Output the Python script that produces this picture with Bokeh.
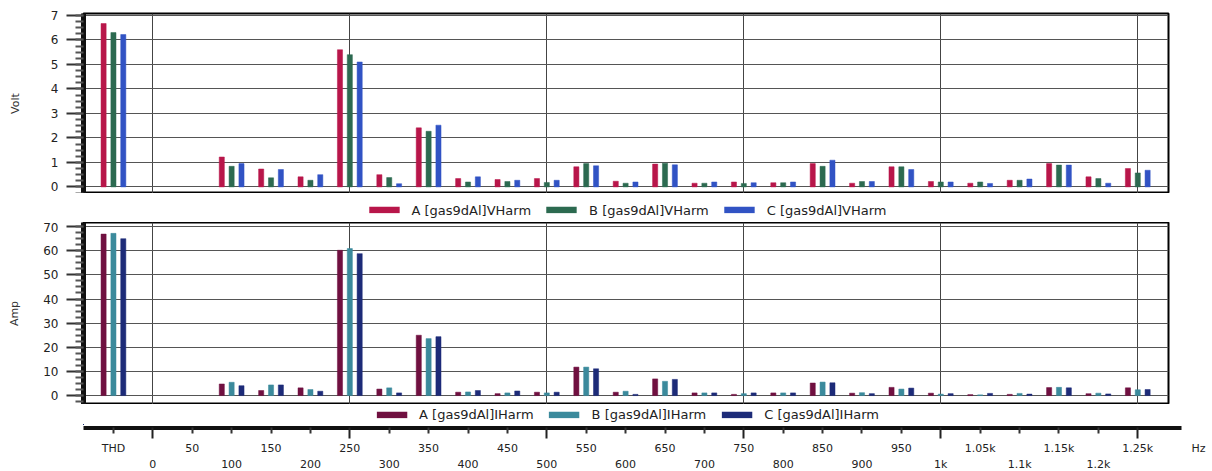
from bokeh.plotting import figure
from bokeh.models import (Range1d, FixedTicker, SingleIntervalTicker, LinearAxis,
                          Legend, LegendItem, ColumnDataSource)
from bokeh.layouts import column
from bokeh.transform import dodge
from bokeh.embed import file_html
from bokeh.resources import INLINE

# ---------------- data ----------------
groups = ["THD", "100", "150", "200", "250", "300", "350", "400", "450", "500",
          "550", "600", "650", "700", "750", "800", "850", "900", "950", "1000",
          "1050", "1100", "1150", "1200", "1250"]
group_pos = [-50, 100, 150, 200, 250, 300, 350, 400, 450, 500,
             550, 600, 650, 700, 750, 800, 850, 900, 950, 1000,
             1050, 1100, 1150, 1200, 1250]

volt_a = [6.67, 1.22, 0.73, 0.41, 5.6, 0.5, 2.41, 0.34, 0.3, 0.34, 0.82, 0.23, 0.93,
          0.15, 0.2, 0.17, 0.95, 0.15, 0.82, 0.22, 0.15, 0.27, 0.95, 0.41, 0.75]
volt_b = [6.3, 0.84, 0.37, 0.27, 5.4, 0.38, 2.27, 0.2, 0.22, 0.18, 0.95, 0.15, 0.97,
          0.15, 0.14, 0.17, 0.84, 0.22, 0.82, 0.2, 0.2, 0.27, 0.89, 0.34, 0.57]
volt_c = [6.22, 0.95, 0.71, 0.5, 5.1, 0.13, 2.52, 0.41, 0.27, 0.27, 0.86, 0.2, 0.9,
          0.2, 0.17, 0.2, 1.09, 0.22, 0.71, 0.2, 0.14, 0.32, 0.89, 0.15, 0.68]

amp_a = [66.9, 4.8, 2.1, 3.2, 60.2, 2.7, 25.0, 1.4, 0.8, 1.4, 11.8, 1.4, 6.9,
         1.1, 0.5, 1.1, 5.2, 1.0, 3.4, 1.0, 0.4, 0.5, 3.3, 0.8, 3.2]
amp_b = [67.2, 5.5, 4.4, 2.5, 60.9, 3.2, 23.6, 1.5, 1.1, 1.1, 11.8, 1.8, 5.9,
         1.1, 0.8, 1.1, 5.6, 1.2, 2.7, 0.6, 0.3, 0.9, 3.4, 1.0, 2.4]
amp_c = [65.0, 4.1, 4.4, 1.8, 58.8, 1.1, 24.4, 2.1, 1.9, 1.4, 11.1, 0.5, 6.7,
         1.1, 1.1, 1.1, 5.3, 0.8, 3.1, 0.8, 0.9, 0.6, 3.2, 0.7, 2.5]

volt_labels = ["A [gas9dAl]VHarm", "B [gas9dAl]VHarm", "C [gas9dAl]VHarm"]
amp_labels = ["A [gas9dAl]IHarm", "B [gas9dAl]IHarm", "C [gas9dAl]IHarm"]

grid_hz = [0, 250, 500, 750, 1000, 1250]
axis_major_hz = [0, 250, 500, 750, 1000, 1250]
axis_minor_hz = [-50, 50, 100, 150, 200, 300, 350, 400, 450, 550, 600, 650, 700,
                 800, 850, 900, 950, 1050, 1100, 1150, 1200]
upper_row_hz = [-50, 50, 150, 250, 350, 450, 550, 650, 750, 850, 950, 1050, 1150,
                1250, 1327]
upper_row_labels = ["THD", "50", "150", "250", "350", "450", "550", "650", "750",
                    "850", "950", "1.05k", "1.15k", "1.25k", "Hz"]
lower_row_hz = [0, 100, 200, 300, 400, 500, 600, 700, 800, 900, 1000, 1100, 1200]
lower_row_labels = ["0", "100", "200", "300", "400", "500", "600", "700", "800",
                    "900", "1k", "1.1k", "1.2k"]

volt_colors = ["#b8164a", "#2c6a50", "#3153c4"]
amp_colors = ["#701040", "#3b8a9c", "#1d2b78"]

FONT = "DejaVu Sans"
X_RANGE = (-88, 1289)
FRAME_W = 1085
PX_PER_HZ = FRAME_W / (X_RANGE[1] - X_RANGE[0])
AXIS_FRAME_W = 1129
AXIS_RANGE = (X_RANGE[0], X_RANGE[0] + AXIS_FRAME_W / PX_PER_HZ)
BAR_W = 6.5
OFFSETS = [-12.5, 0, 12.5]
COMMON = dict(toolbar_location=None, output_backend="svg", min_border_left=83,
              x_axis_location=None)

source = ColumnDataSource(dict(x=group_pos, group=groups,
                               va=volt_a, vb=volt_b, vc=volt_c,
                               ia=amp_a, ib=amp_b, ic=amp_c))


def style_panel(p, y_interval, ylabel, label_standoff):
    p.outline_line_color = "black"
    p.outline_line_width = 2
    yax = p.yaxis[0]
    yax.ticker = SingleIntervalTicker(interval=y_interval, num_minor_ticks=4)
    yax.axis_line_width = 5
    yax.axis_line_color = "#111111"
    yax.major_tick_out = 17
    yax.major_tick_in = 0
    yax.minor_tick_out = 8
    yax.minor_tick_in = 0
    yax.major_tick_line_width = 2
    yax.minor_tick_line_width = 2
    yax.major_tick_line_color = "#333333"
    yax.minor_tick_line_color = "#555555"
    yax.major_label_text_font = FONT
    yax.major_label_text_font_size = "12px"
    yax.major_label_text_color = "#222222"
    yax.major_label_standoff = 8
    yax.axis_label = ylabel
    yax.axis_label_text_font = FONT
    yax.axis_label_text_font_size = "11px"
    yax.axis_label_text_font_style = "normal"
    yax.axis_label_text_color = "#333333"
    yax.axis_label_standoff = label_standoff
    p.ygrid.grid_line_color = "#555555"
    p.ygrid.grid_line_width = 1
    p.xgrid.ticker = FixedTicker(ticks=grid_hz)
    p.xgrid.grid_line_color = "#444444"
    p.xgrid.grid_line_width = 1


def add_bars(p, cols, colors, outline=True):
    rs = []
    for col, off, colr in zip(cols, OFFSETS, colors):
        rs.append(p.vbar(x=dodge("x", off), top=col, width=BAR_W, source=source,
                         fill_color=colr, line_color=colr if outline else None,
                         line_width=0.5))
    return rs


def legend_strip(cols, colors, labels, height, top, bottom):
    # a strip below a panel holding only its legend; its ranges keep the bars out of view
    q = figure(width=1212, height=height, x_range=Range1d(10000, 10001),
               y_range=Range1d(10000, 10001), y_axis_location=None,
               min_border_right=44, min_border_top=top, min_border_bottom=bottom,
               **COMMON)
    q.outline_line_color = None
    q.xgrid.visible = False
    q.ygrid.visible = False
    rs = add_bars(q, cols, colors, outline=False)
    items = [LegendItem(label=lab, renderers=[r]) for lab, r in zip(labels, rs)]
    q.add_layout(Legend(items=items, orientation="horizontal", location="center",
                        glyph_width=38, glyph_height=8, label_height=12,
                        label_text_font=FONT, label_text_font_size="13px",
                        label_text_color="#222222", label_standoff=9, spacing=11,
                        padding=2, margin=0, border_line_color=None,
                        background_fill_alpha=0), "center")
    return q


# ---------------- top panel (Volt) ----------------
p1 = figure(width=1212, height=193, x_range=Range1d(*X_RANGE),
            y_range=Range1d(-0.27, 7.08), min_border_right=44,
            min_border_top=13, min_border_bottom=0, **COMMON)
style_panel(p1, 1, "Volt", 26)
add_bars(p1, ["va", "vb", "vc"], volt_colors)
leg1 = legend_strip(["va", "vb", "vc"], volt_colors, volt_labels, 29, 4, 0)

# ---------------- bottom panel (Amp) ----------------
p2 = figure(width=1212, height=182, x_range=p1.x_range,
            y_range=Range1d(-3.7, 71.7), min_border_right=44,
            min_border_top=0, min_border_bottom=0, **COMMON)
style_panel(p2, 10, "Amp", 19)
add_bars(p2, ["ia", "ib", "ic"], amp_colors)
leg2 = legend_strip(["ia", "ib", "ic"], amp_colors, amp_labels, 22, 0, 2)

# ---------------- shared frequency axis ----------------
p3 = figure(width=None, height=None, frame_width=AXIS_FRAME_W, frame_height=1,
            x_range=Range1d(*AXIS_RANGE), y_range=Range1d(0, 1),
            y_axis_location=None, min_border_right=0, min_border_top=0,
            min_border_bottom=0, **COMMON)
p3.outline_line_color = None
p3.xgrid.visible = False
p3.ygrid.visible = False

ax_line = LinearAxis(ticker=FixedTicker(ticks=axis_major_hz, minor_ticks=axis_minor_hz),
                     major_label_overrides={h: "" for h in axis_major_hz},
                     bounds=(X_RANGE[0], 1305),
                     axis_line_width=5, axis_line_color="#111111",
                     major_tick_out=11, major_tick_in=0, minor_tick_out=6, minor_tick_in=0,
                     major_tick_line_width=2, minor_tick_line_width=2,
                     major_tick_line_color="#222222", minor_tick_line_color="#333333",
                     major_label_text_font_size="1px", major_label_standoff=0)
p3.add_layout(ax_line, "below")

ax_upper = LinearAxis(ticker=FixedTicker(ticks=upper_row_hz),
                      major_label_overrides={h: t for h, t in zip(upper_row_hz, upper_row_labels)},
                      axis_line_color=None, major_tick_out=0, major_tick_in=0,
                      minor_tick_out=0, minor_tick_in=0,
                      major_label_text_font=FONT, major_label_text_font_size="11px",
                      major_label_text_color="#222222", major_label_standoff=3)
p3.add_layout(ax_upper, "below")

ax_lower = LinearAxis(ticker=FixedTicker(ticks=lower_row_hz),
                      major_label_overrides={h: t for h, t in zip(lower_row_hz, lower_row_labels)},
                      axis_line_color=None, major_tick_out=0, major_tick_in=0,
                      minor_tick_out=0, minor_tick_in=0,
                      major_label_text_font=FONT, major_label_text_font_size="11px",
                      major_label_text_color="#222222", major_label_standoff=0)
p3.add_layout(ax_lower, "below")

layout = column(p1, leg1, p2, leg2, p3, spacing=0)
open("out.html", "w").write(file_html(layout, INLINE))
